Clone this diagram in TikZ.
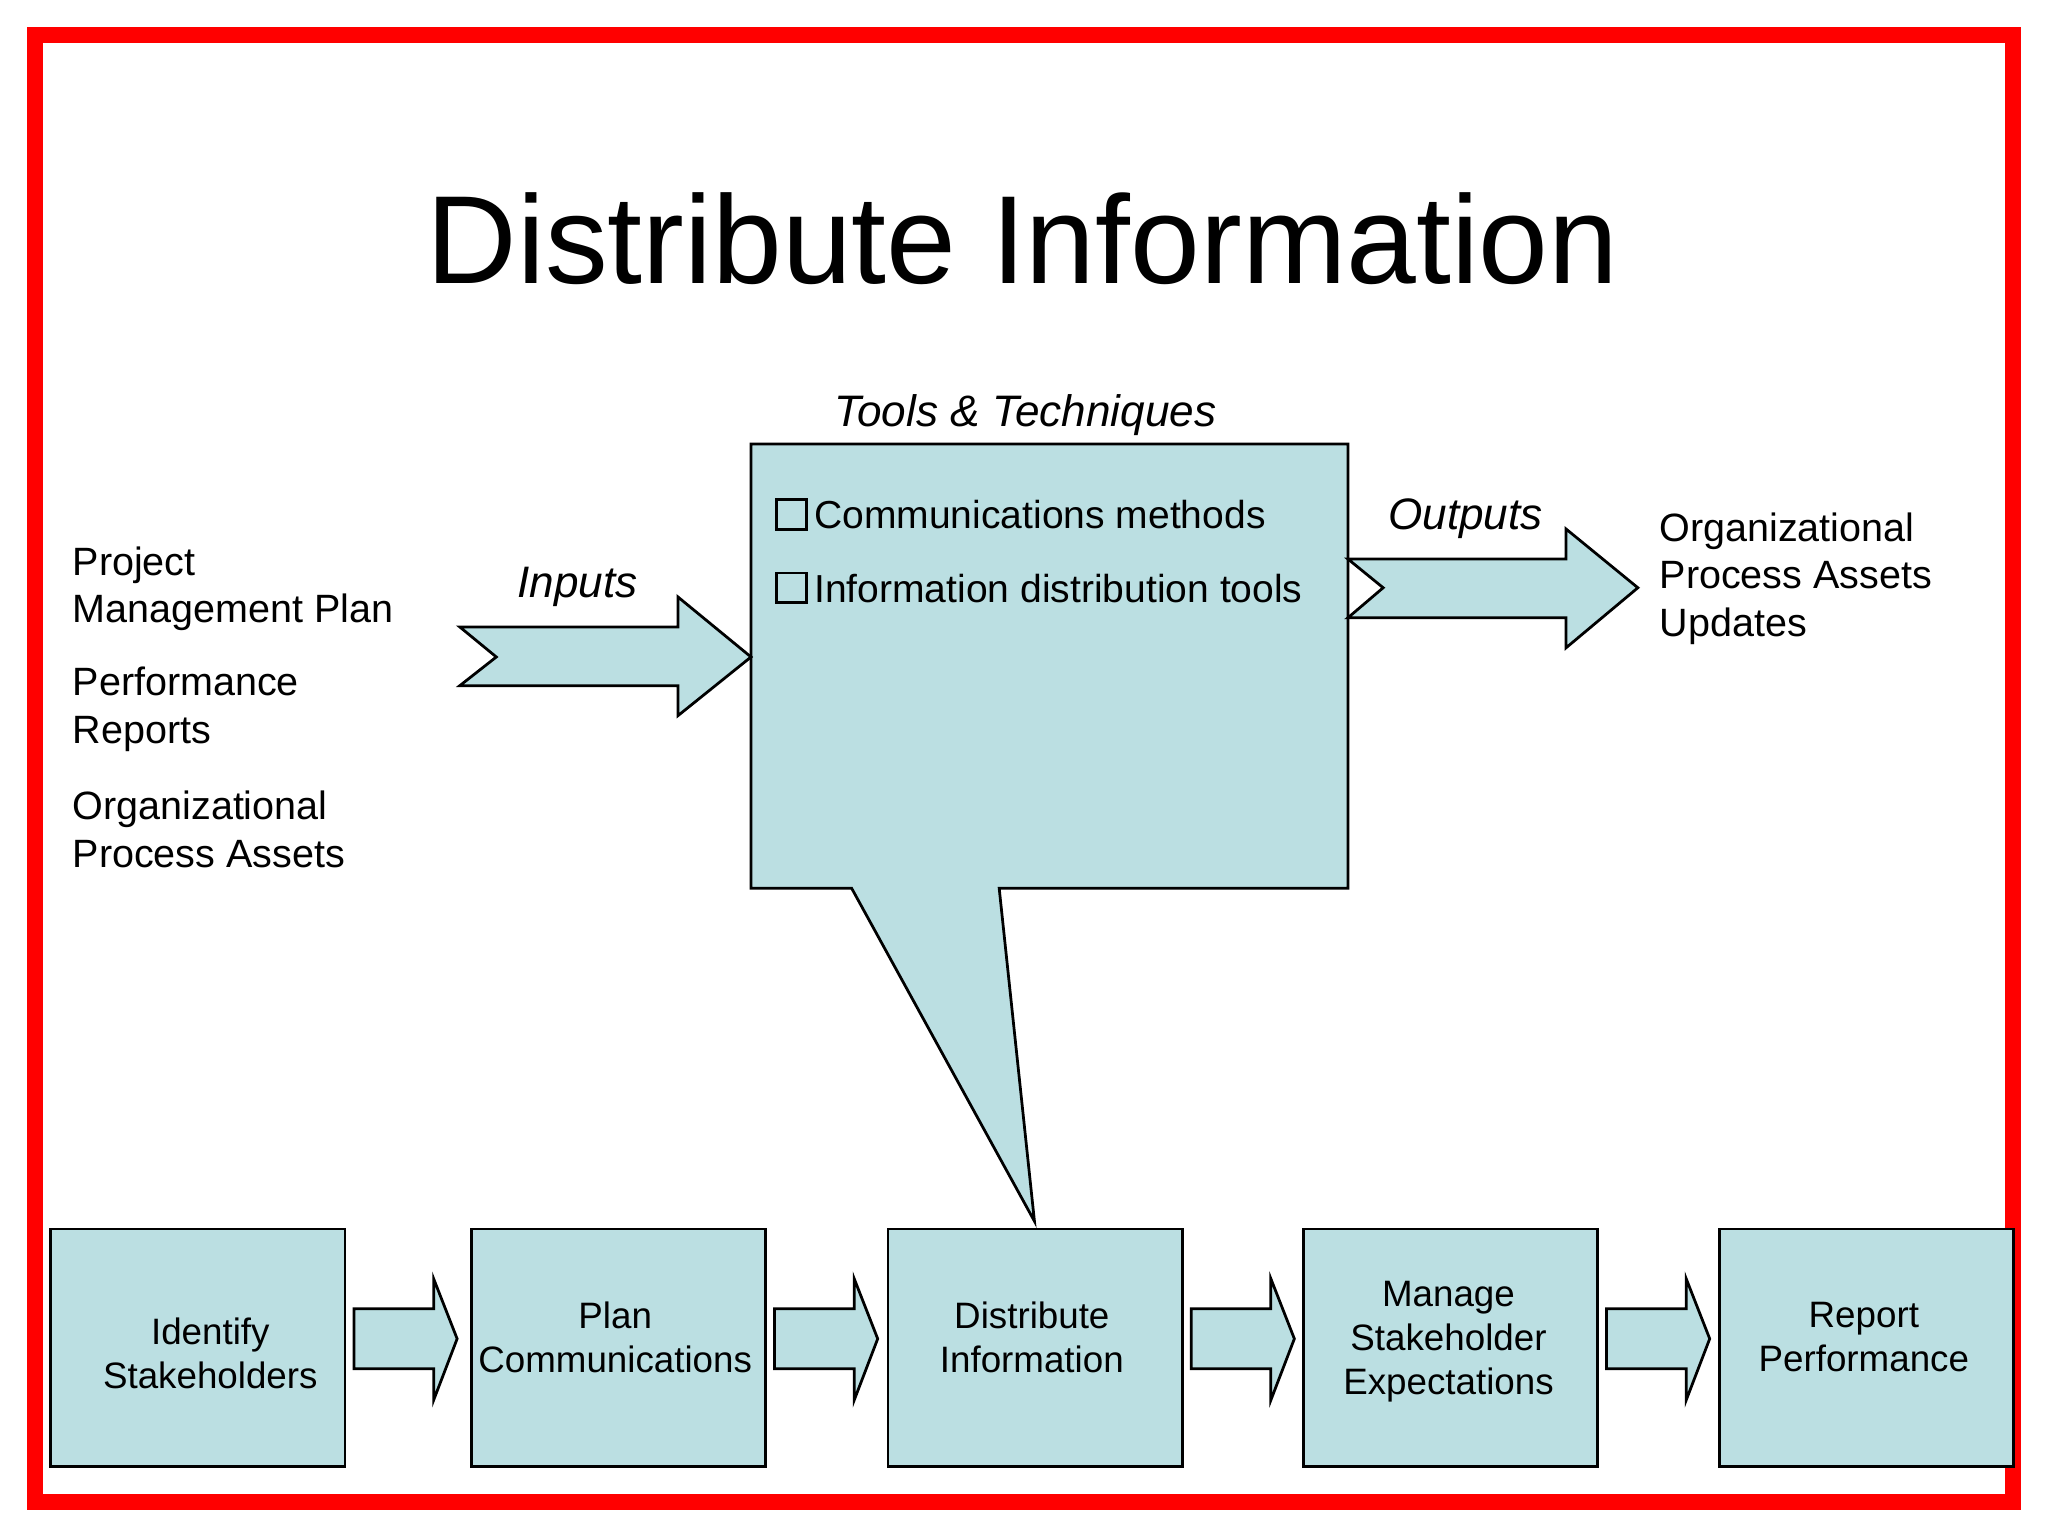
\documentclass[tikz,border=0pt]{standalone}
\usepackage{fontspec}
\setmainfont{Liberation Sans}
\definecolor{boxfill}{HTML}{BBDFE2}
\newcommand{\chkbox}{{\setlength{\fboxsep}{0pt}\setlength{\fboxrule}{0.6pt}\raisebox{0.2pt}{\fbox{\rule{0pt}{1.3ex}\hspace{1.3ex}}}}}
\begin{document}
\begin{tikzpicture}[x=0.01cm,y=-0.01cm,
  box/.style={draw=black,fill=boxfill,line width=0.6pt},
  lbl/.style={font=\fontsize{8.6}{10.3}\selectfont,align=left,anchor=west,inner sep=0},
  procbox/.style={box,minimum width=2.25cm,minimum height=1.82cm,inner sep=0},
  proctext/.style={inner sep=0,align=center,font=\fontsize{8.0}{9.6}\selectfont},
  italic/.style={font=\fontsize{9.6}{11}\selectfont\itshape,inner sep=0}]
\useasboundingbox (0,0) rectangle (1568,1176);
\draw[red,line width=12*0.2845pt] (27,27) rectangle (1541,1150);
\node[inner sep=0,font=\fontsize{27.3}{33}\selectfont] (title) at (783,183) {Distribute Information};
% tools box with callout
\draw[box] (575,340) -- (1032,340) -- (1032,680) -- (765,680) -- (792,935) -- (652,680) -- (575,680) -- cycle;
\node[italic] (tt) at (785,318) {Tools \& Techniques};
\node[lbl,font=\fontsize{8.5}{10}\selectfont] (m1) at (593,394) {\chkbox\,Communications methods};
\node[lbl,font=\fontsize{8.5}{10}\selectfont] (m2) at (593,450) {\chkbox\,Information distribution tools};
% inputs arrow
\draw[box] (352,480) -- (519,480) -- (519,457) -- (575,503) -- (519,548) -- (519,525) -- (352,525) -- (380,503) -- cycle;
\node[italic] (inp) at (442,449) {Inputs};
\node[lbl] (i1) at (55,451) {Project\\Management Plan};
\node[lbl] (i2) at (55,543) {Performance\\Reports};
\node[lbl] (i3) at (55,635) {Organizational\\Process Assets};
% outputs arrow
\draw[box] (1032,428) -- (1199,428) -- (1199,405) -- (1254,450) -- (1199,496) -- (1199,473) -- (1032,473) -- (1059,450) -- cycle;
\node[italic] (out) at (1122,397) {Outputs};
\node[lbl] (o1) at (1270,443) {Organizational\\Process Assets\\Updates};
% bottom process
\node[procbox] (s1) at (151.5,1032) {};
\node[procbox] (s2) at (473.5,1032) {};
\node[procbox] (s3) at (792.5,1032) {};
\node[procbox] (s4) at (1110.5,1032) {};
\node[procbox] (s5) at (1429,1032) {};
\node[proctext] (t1) at (161,1036) {Identify\\Stakeholders};
\node[proctext] (t2) at (471,1024) {Plan\\Communications};
\node[proctext] (t3) at (790,1024) {Distribute\\Information};
\node[proctext] (t4) at (1109,1027) {Manage\\Stakeholder\\Expectations};
\node[proctext] (t5) at (1427,1024) {Report\\Performance};
\foreach \x in {271,593,912,1230}{
  \draw[box] (\x,1002) -- (\x+61,1002) -- (\x+61,979) -- (\x+79,1025) -- (\x+61,1072) -- (\x+61,1048) -- (\x,1048) -- cycle;
}
\end{tikzpicture}
\end{document}
